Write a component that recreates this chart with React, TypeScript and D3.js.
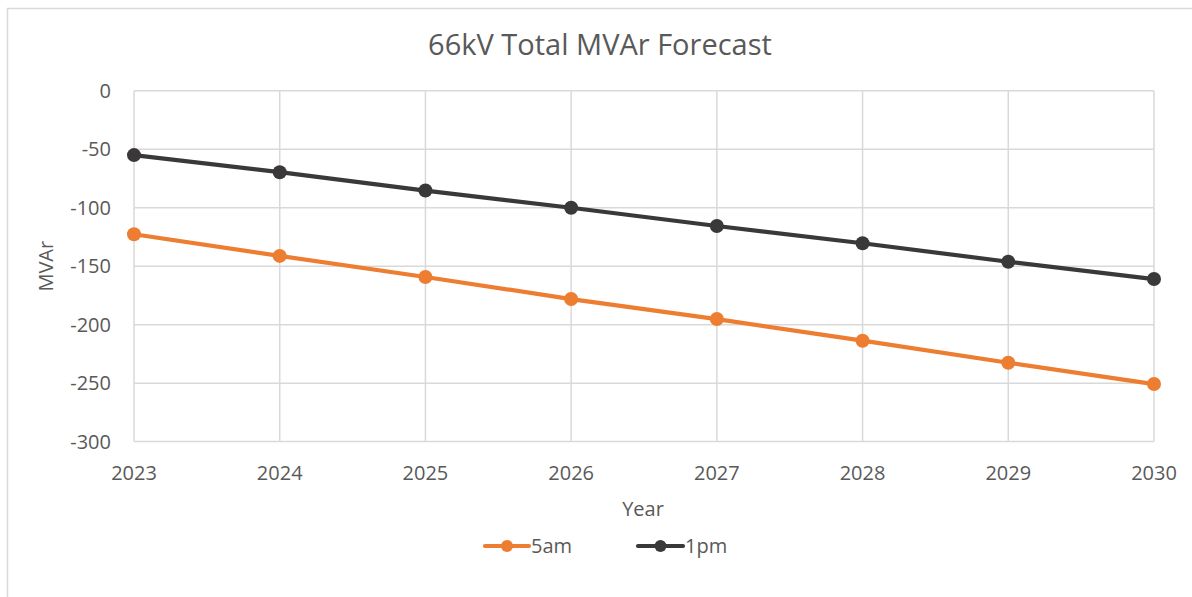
import React from "react";
import * as d3 from "d3";

const years = [2023, 2024, 2025, 2026, 2027, 2028, 2029, 2030];
const am5 = [-122.7, -141.2, -159.2, -178.1, -195.2, -213.7, -232.6, -250.8];
const pm1 = [-55.0, -69.6, -85.3, -100.0, -115.6, -130.4, -146.2, -161.0];
const yTicks = [0, -50, -100, -150, -200, -250, -300];

const W = 1192, H = 597;
const left = 134, right = 1154, top = 90.8, bottom = 441.6;
const FONT = "'Open Sans', sans-serif";
const TXT = "#595959";
const GRID = "#D9D9D9";
const ORANGE = "#ED7D31";
const DARK = "#3A3838";

export default function App() {
  const x = d3.scalePoint<number>().domain(years).range([left, right]);
  const y = d3.scaleLinear().domain([-300, 0]).range([bottom, top]);
  const line = d3.line<number>().x((_, i) => x(years[i])!).y((d) => y(d));
  const series = [
    { name: "5am", values: am5, color: ORANGE },
    { name: "1pm", values: pm1, color: DARK },
  ];
  const legend = [
    { name: "5am", color: ORANGE, x0: 485, x1: 529, tx: 531 },
    { name: "1pm", color: DARK, x0: 638, x1: 683, tx: 685 },
  ];
  return (
    <svg width={W} height={H} style={{ position: "absolute", left: 0, top: 0 }} fontFamily={FONT}>
      <rect x={0} y={0} width={W} height={H} fill="#fff" />
      <rect x={7.5} y={8.5} width={W + 20} height={H + 20} fill="none" stroke="#D9D9D9" strokeWidth={1.5} />
      <text x={600} y={55} textAnchor="middle" fontSize={29} fill={TXT}>66kV Total MVAr Forecast</text>
      {yTicks.map((t) => (
        <g key={t}>
          <line x1={left} x2={right} y1={y(t)} y2={y(t)} stroke={GRID} strokeWidth={1.5} />
          <text x={111} y={y(t)} dy="0.36em" textAnchor="end" fontSize={20} fill={TXT}>{t}</text>
        </g>
      ))}
      {years.map((yr) => (
        <g key={yr}>
          <line x1={x(yr)} x2={x(yr)} y1={top} y2={bottom} stroke={GRID} strokeWidth={1.5} />
          <text x={x(yr)} y={480} textAnchor="middle" fontSize={20} fill={TXT}>{yr}</text>
        </g>
      ))}
      <text x={643} y={516} textAnchor="middle" fontSize={20} fill={TXT}>Year</text>
      <text transform={`translate(53,${(top + bottom) / 2}) rotate(-90)`} textAnchor="middle" fontSize={20} fill={TXT}>MVAr</text>
      {series.map((s) => (
        <g key={s.name}>
          <path d={line(s.values)!} fill="none" stroke={s.color} strokeWidth={4.2} strokeLinejoin="round" />
          {s.values.map((v, i) => (
            <circle key={i} cx={x(years[i])!} cy={y(v)} r={7} fill={s.color} />
          ))}
        </g>
      ))}
      {legend.map((l) => (
        <g key={l.name}>
          <line x1={l.x0} x2={l.x1} y1={546} y2={546} stroke={l.color} strokeWidth={4.2} strokeLinecap="round" />
          <circle cx={(l.x0 + l.x1) / 2} cy={546} r={6} fill={l.color} />
          <text x={l.tx} y={546} dy="0.36em" fontSize={20} fill={TXT}>{l.name}</text>
        </g>
      ))}
    </svg>
  );
}
